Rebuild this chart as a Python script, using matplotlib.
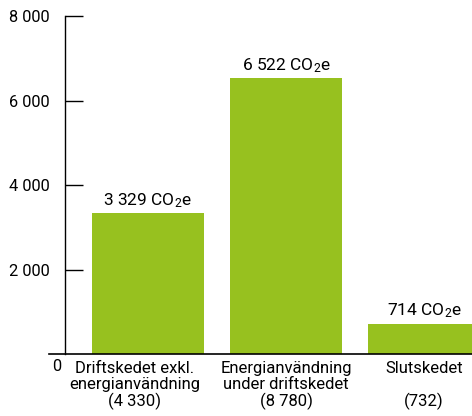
import matplotlib
matplotlib.use("Agg")
import matplotlib.pyplot as plt
import matplotlib.transforms as mtransforms

plt.rcParams['font.family'] = ['Roboto', 'DejaVu Sans']
plt.rcParams['mathtext.default'] = 'regular'

categories = ["Driftskedet exkl.\nenergianvändning\n(4 330)",
              "Energianvändning\nunder driftskedet\n(8 780)",
              "Slutskedet\n\n(732)"]
values = [3329, 6522, 714]
value_labels = ["3 329 CO$_2$e", "6 522 CO$_2$e", "714 CO$_2$e"]
yticks = [2000, 4000, 6000, 8000]
ytick_labels = ["2 000", "4 000", "6 000", "8 000"]

green = "#97c11f"

fig = plt.figure(figsize=(4.72, 4.16), dpi=100)
ax = fig.add_axes([0.1377, 0.149, 0.8623, 0.8125])

x = range(len(values))
bars = ax.bar(x, values, width=0.81, color=green)
for b, lab in zip(bars, value_labels):
    ax.text(b.get_x() + b.get_width() / 2, b.get_height() + 80, lab,
            ha='center', va='bottom', fontsize=12.5)

ax.set_xlim(-0.601, 2.348)
ax.set_ylim(0, 8000)

for s in ['top', 'right', 'bottom']:
    ax.spines[s].set_visible(False)
ax.spines['left'].set_linewidth(1.0)

# baseline runs a little past the y axis on the left
ax.axhline(0, xmin=-0.04, xmax=1, color='black', lw=1.2, clip_on=False)

ax.set_yticks(yticks)
ax.set_yticklabels(ytick_labels, fontsize=11.8)
ax.tick_params(axis='y', direction='in', length=13, width=1.0, pad=11)

ax.set_xticks(list(x))
ax.set_xticklabels(categories, fontsize=12, linespacing=1.08)
ax.tick_params(axis='x', length=0, pad=5)
# first category label sits a bit left of its bar
first = ax.get_xticklabels()[0]
first.set_transform(first.get_transform() +
                    mtransforms.ScaledTranslation(-0.13, 0, fig.dpi_scale_trans))

trans = mtransforms.blended_transform_factory(fig.transFigure, ax.transData)
ax.text(57 / 472, -110, "0", transform=trans, ha='center', va='top',
        fontsize=11.8)

fig.savefig("out.png", dpi=100)
